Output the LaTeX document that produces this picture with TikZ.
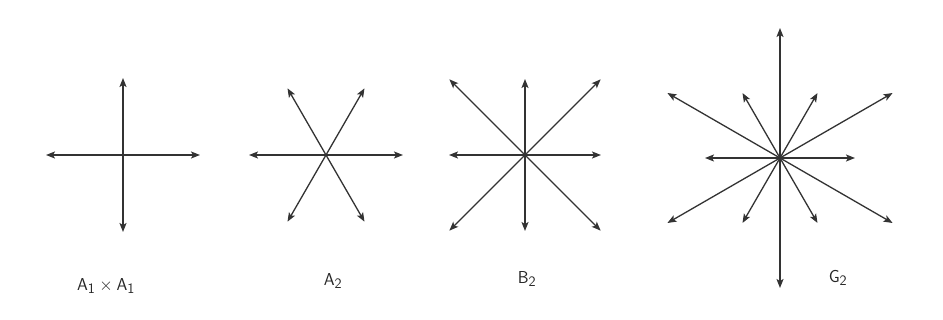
\documentclass[tikz,border=0pt]{standalone}
\usetikzlibrary{arrows.meta}
\begin{document}
\begin{tikzpicture}[x=1pt,y=-1pt,
  root/.style={draw=black!80, line width=1.3pt, -{Stealth[length=9pt,width=7pt,inset=2pt]}},
  lbl/.style={font=\sffamily\fontsize{19}{22}\selectfont, text=black!85}]
\fill[white] (0,0) rectangle (943,320);
\useasboundingbox (0,0) rectangle (943,320);
% A1 x A1
\coordinate (a) at (123,155);
\foreach \ang [count=\i] in {0,90,180,270} {
  \path (a) ++(\ang:77) coordinate (a\i);
  \draw[root] (a) -- (a\i);
}
\node[lbl] (la) at (106,286) {$\mathsf{A_1\times A_1}$};
% A2
\coordinate (b) at (326,155);
\foreach \ang [count=\i] in {0,60,120,180,240,300} {
  \path (b) ++(\ang:77) coordinate (b\i);
  \draw[root] (b) -- (b\i);
}
\node[lbl] (lb) at (333,281) {$\mathsf{A_2}$};
% B2
\coordinate (c) at (525,155);
\foreach \ang [count=\i] in {0,90,180,270} {
  \path (c) ++(\ang:76) coordinate (c\i);
  \draw[root] (c) -- (c\i);
}
\foreach \ang [count=\i] in {45,135,225,315} {
  \path (c) ++(\ang:107) coordinate (cl\i);
  \draw[root] (c) -- (cl\i);
}
\node[lbl] (lc) at (527,279) {$\mathsf{B_2}$};
% G2
\coordinate (d) at (780,158);
\foreach \ang [count=\i] in {0,60,120,180,240,300} {
  \path (d) ++(\ang:75) coordinate (d\i);
  \draw[root] (d) -- (d\i);
}
\foreach \ang [count=\i] in {30,90,150,210,270,330} {
  \path (d) ++(\ang:130) coordinate (dl\i);
  \draw[root] (d) -- (dl\i);
}
\node[lbl] (ld) at (838,278) {$\mathsf{G_2}$};
\end{tikzpicture}
\end{document}
